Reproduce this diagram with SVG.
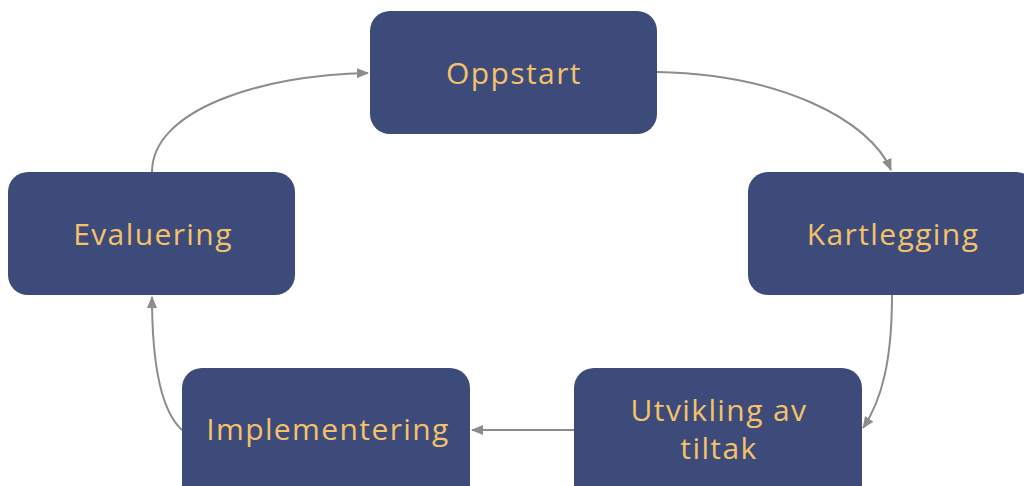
<svg xmlns="http://www.w3.org/2000/svg" width="1024" height="486" viewBox="0 0 1024 486">
<style>
.box{fill:#3c4b7a;}
.lbl{fill:#f5c26a;font-family:"Open Sans","Liberation Sans",sans-serif;font-size:30px;text-anchor:middle;letter-spacing:1.4px;}
.con{fill:none;stroke:#8c8c8c;stroke-width:2;}
</style>
<defs>
<marker id="ah" viewBox="0 0 12 10" refX="11" refY="5" markerWidth="12" markerHeight="10" markerUnits="userSpaceOnUse" orient="auto">
<path d="M0,0 L12,5 L0,10 z" fill="#8c8c8c"/>
</marker>
</defs>
<rect width="1024" height="486" fill="#ffffff"/>
<g id="connectors">
<path class="con" d="M657,72 C780,74 870,120 891,170" marker-end="url(#ah)"/>
<path class="con" d="M892,295 C892,360 882,400 863,428" marker-end="url(#ah)"/>
<path class="con" d="M574,430 L472,430" marker-end="url(#ah)"/>
<path class="con" d="M182,430 C160,410 152,360 152,297" marker-end="url(#ah)"/>
<path class="con" d="M152,172 C152,110 260,75 368,73" marker-end="url(#ah)"/>
</g>
<g id="oppstart">
<rect class="box" x="370" y="11" width="287" height="123" rx="20"/>
<text class="lbl" x="514" y="84">Oppstart</text>
</g>
<g id="kartlegging">
<rect class="box" x="748" y="172" width="288" height="123" rx="20"/>
<text class="lbl" x="893" y="245">Kartlegging</text>
</g>
<g id="utvikling">
<rect class="box" x="574" y="368" width="288" height="140" rx="20"/>
<text class="lbl" x="719" y="421">Utvikling av</text>
<text class="lbl" x="719" y="459">tiltak</text>
</g>
<g id="implementering">
<rect class="box" x="182" y="368" width="288" height="140" rx="20"/>
<text class="lbl" x="328" y="440">Implementering</text>
</g>
<g id="evaluering">
<rect class="box" x="8" y="172" width="287" height="123" rx="20"/>
<text class="lbl" x="153" y="245">Evaluering</text>
</g>
</svg>
